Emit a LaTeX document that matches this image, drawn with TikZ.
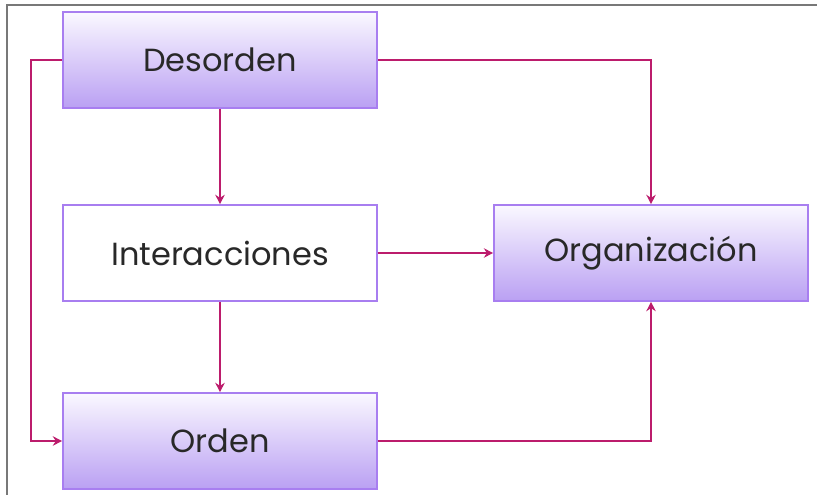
\documentclass[tikz,border=0pt]{standalone}
\usepackage{fontspec}
\setmainfont{Poppins}
\usetikzlibrary{arrows.meta}

\definecolor{boxline}{RGB}{168,126,240}
\definecolor{boxtop}{RGB}{250,248,255}
\definecolor{boxlow}{RGB}{186,160,243}
\definecolor{linkcol}{RGB}{188,28,108}
\definecolor{framecol}{RGB}{120,120,120}
\definecolor{txtcol}{RGB}{40,40,40}

\tikzset{
  box/.style={draw=boxline, line width=1.2pt, minimum width=235.5pt, minimum height=72pt,
    text=txtcol, font=\fontsize{24}{28}\selectfont},
  shadebox/.style={box, top color=boxtop, bottom color=boxlow},
  link/.style={draw=linkcol, line width=1.4pt, -{Stealth[length=7pt,width=7pt]}}
}

\begin{document}
\begin{tikzpicture}[x=0.75pt,y=0.75pt,yscale=-1,xscale=1]
\useasboundingbox (0,0) rectangle (817,495);

%Frame
\draw[framecol, line width=1.5pt] (7,495) -- (7,5) -- (817,5);

%Boxes
\node[shadebox] (des) at (220,60) {Desorden};
\node[box, fill=white] (inter) at (220,253) {Interacciones};
\node[shadebox] (org) at (651,253) {Organización};
\node[shadebox] (ord) at (220,441) {Orden};

%Connectors
\draw[link] (des.west) -- ++(-31,0) |- (ord.west);
\draw[link] (des) -- (inter);
\draw[link] (des.east) -| (org.north);
\draw[link] (inter) -- (org);
\draw[link] (inter) -- (ord);
\draw[link] (ord.east) -| (org.south);

\end{tikzpicture}
\end{document}
